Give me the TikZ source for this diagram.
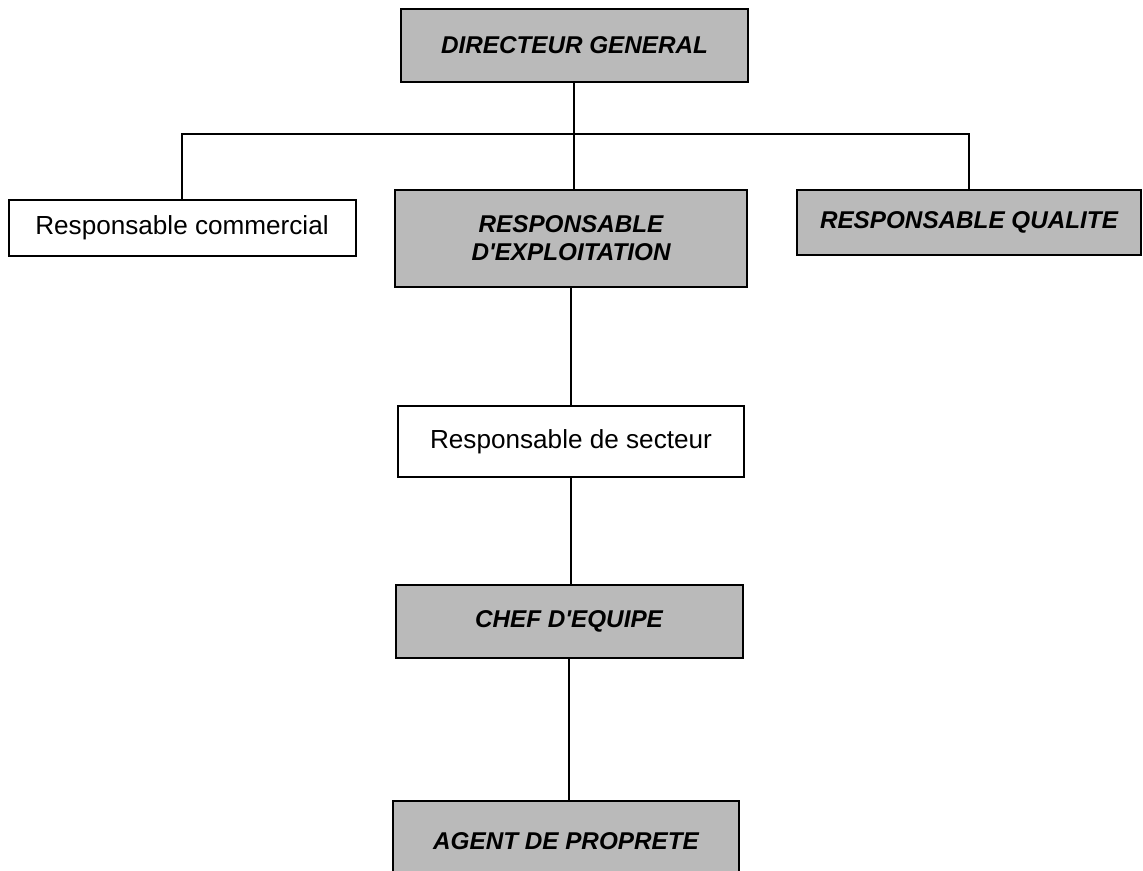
\documentclass[tikz,border=0pt]{standalone}
\usepackage{fontspec}
\setmainfont{Liberation Sans}[Ligatures=TeXOff]
\newcommand\pxu{0.75pt}
\begin{document}
\begin{tikzpicture}[x=0.75pt,y=-0.75pt,
  plainbox/.style={draw=black, line width=1.5pt, fill=white, inner sep=0pt,
    font=\fontsize{19.6}{23}\selectfont, align=center},
  shadebox/.style={draw=black, line width=1.5pt, fill=black!27, inner sep=0pt,
    font=\fontsize{18.2}{21}\selectfont\bfseries\itshape, align=center},
  link/.style={draw=black, line width=1.3pt}]
\clip (0,0) rectangle (1143,871);
\fill[white] (0,0) rectangle (1143,871);

\node[shadebox, minimum width=347*\pxu, minimum height=73*\pxu] (dg) at (574.5,45.5) {DIRECTEUR GENERAL};
\node[plainbox, minimum width=347*\pxu, minimum height=56*\pxu] (com) at (182,228) {Responsable commercial};
\node[shadebox, minimum width=352*\pxu, minimum height=97*\pxu] (expl) at (571,238.5) {RESPONSABLE\\D'EXPLOITATION};
\node[shadebox, minimum width=344*\pxu, minimum height=65*\pxu] (qual) at (969,222.5) {RESPONSABLE QUALITE};
\node[plainbox, minimum width=346*\pxu, minimum height=71*\pxu] (sect) at (571,441.5) {Responsable de secteur};
\node[shadebox, minimum width=347*\pxu, minimum height=73*\pxu] (chef) at (569,621.5) {CHEF D'EQUIPE};
\node[shadebox, minimum width=346*\pxu, minimum height=80*\pxu] (agent) at (566,841) {AGENT DE PROPRETE};

\coordinate (bus) at (574,134);
\draw[link] (dg.south -| bus) -- (expl.north -| bus);
\draw[link] (com.north) |- (bus) -| (qual.north);
\draw[link] (expl.south -| sect.north) -- (sect.north);
\draw[link] (sect.south) -- (sect.south |- chef.north);
\draw[link] (chef.south) -- (chef.south |- agent.north);
\end{tikzpicture}
\end{document}
